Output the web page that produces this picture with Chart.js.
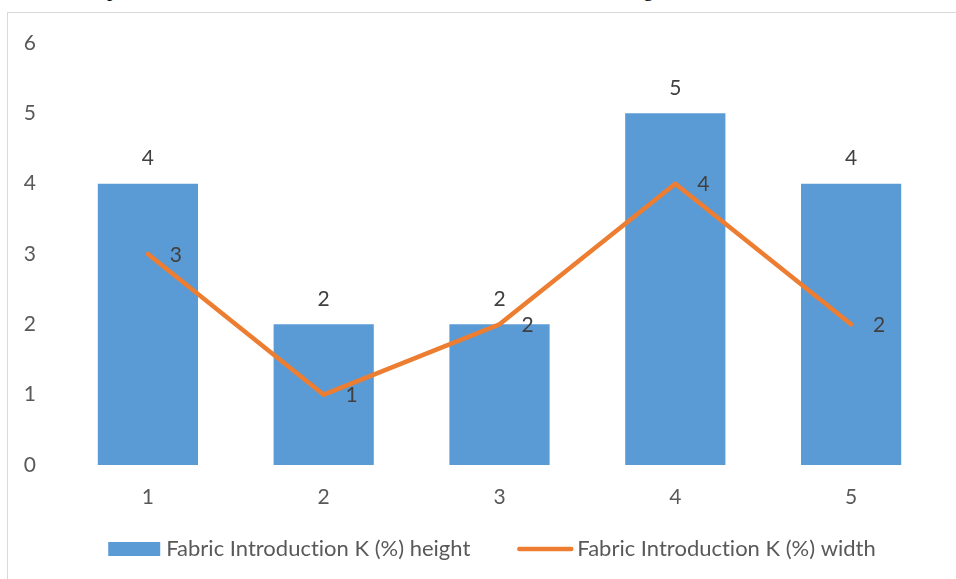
<!DOCTYPE html>
<html>
<head>
<meta charset="utf-8">
<script src="https://cdn.jsdelivr.net/npm/chart.js@4/dist/chart.umd.min.js"></script>
<style>
  html, body { margin: 0; padding: 0; background: #ffffff; overflow: hidden; }
  body { width: 956px; height: 579px; position: relative; }
  .frag { position: absolute; top: -21px; font: 21px "Liberation Serif", serif; line-height: 21px; color: #000; }
  #frame {
    position: absolute; left: 7px; top: 12px;
    width: 970px; height: 580px;
    border: 1px solid #d9d9d9; box-sizing: border-box; background: #fff;
  }
  #frame canvas { display: block; font-variant-ligatures: none; }
</style>
</head>
<body>
<span class="frag" style="left:107px">p</span>
<span class="frag" style="left:643px">g</span>
<div id="frame"><canvas id="c" width="968" height="566"></canvas></div>
<script>
// Categories and the two measured series
const categories = ['1', '2', '3', '4', '5'];
const heightValues = [4, 2, 2, 5, 4];
const widthValues = [3, 1, 2, 4, 2];
const seriesNames = ['Fabric Introduction K (%) height', 'Fabric Introduction K (%) width'];
const yTicks = [0, 1, 2, 3, 4, 5, 6];

const BLUE = '#5B9BD5';
const ORANGE = '#ED7D31';
const AXIS_TEXT = '#595959';
const LABEL_TEXT = '#404040';
const FONT_FAMILY = 'Lato, "Open Sans", sans-serif';
const FONT_SIZE = 21;
const LEGEND_FONT_SIZE = 22;

// Value labels: above each bar, to the right of each line point
const valueLabels = {
  id: 'valueLabels',
  afterDatasetsDraw(chart) {
    const ctx = chart.ctx;
    ctx.save();
    ctx.font = FONT_SIZE + 'px ' + FONT_FAMILY;
    ctx.fillStyle = LABEL_TEXT;
    ctx.textAlign = 'center';
    ctx.textBaseline = 'middle';
    chart.data.datasets.forEach((ds, i) => {
      const meta = chart.getDatasetMeta(i);
      meta.data.forEach((el, j) => {
        const v = ds.data[j];
        if (meta.type === 'bar') {
          ctx.fillText(String(v), el.x, el.y - 25);
        } else {
          ctx.fillText(String(v), el.x + 28, el.y + 1);
        }
      });
    });
    ctx.restore();
  }
};

// Legend row drawn below the axis, centred in the frame
const bottomLegend = {
  id: 'bottomLegend',
  afterDraw(chart) {
    const ctx = chart.ctx;
    ctx.save();
    ctx.font = LEGEND_FONT_SIZE + 'px ' + FONT_FAMILY;
    if ('textRendering' in ctx) ctx.textRendering = 'optimizeSpeed';
    const w1 = ctx.measureText(seriesNames[0]).width;
    const w2 = ctx.measureText(seriesNames[1]).width;
    const boxW = 52, boxH = 14, gap1 = 6, spacing = 47, lineW = 56, gap2 = 4;
    const total = boxW + gap1 + w1 + spacing + lineW + gap2 + w2;
    let x = (chart.width - total) / 2;
    const y = 536;
    ctx.fillStyle = BLUE;
    ctx.fillRect(x, y - boxH / 2, boxW, boxH);
    x += boxW + gap1;
    ctx.fillStyle = AXIS_TEXT;
    ctx.textAlign = 'left';
    ctx.textBaseline = 'middle';
    ctx.fillText(seriesNames[0], x, y);
    x += w1 + spacing;
    ctx.strokeStyle = ORANGE;
    ctx.lineWidth = 4.5;
    ctx.lineCap = 'round';
    ctx.beginPath();
    ctx.moveTo(x + 2, y);
    ctx.lineTo(x + lineW - 2, y);
    ctx.stroke();
    x += lineW + gap2;
    ctx.fillText(seriesNames[1], x, y);
    ctx.restore();
  }
};

new Chart(document.getElementById('c'), {
  data: {
    labels: categories,
    datasets: [
      {
        type: 'line',
        label: seriesNames[1],
        data: widthValues,
        borderColor: ORANGE,
        backgroundColor: ORANGE,
        borderWidth: 4.5,
        borderCapStyle: 'round',
        borderJoinStyle: 'round',
        pointRadius: 0,
        tension: 0,
        order: 0
      },
      {
        type: 'bar',
        label: seriesNames[0],
        data: heightValues,
        backgroundColor: BLUE,
        borderWidth: 0,
        barPercentage: 0.57,
        categoryPercentage: 1,
        order: 1
      }
    ]
  },
  options: {
    responsive: false,
    animation: false,
    events: [],
    layout: { padding: { top: 30, right: 37, left: 0, bottom: 74 } },
    plugins: {
      legend: { display: false },
      tooltip: { enabled: false },
      title: { display: false }
    },
    scales: {
      x: {
        offset: true,
        grid: { display: false, drawTicks: false },
        border: { display: false },
        ticks: {
          color: AXIS_TEXT,
          font: { family: FONT_FAMILY, size: FONT_SIZE },
          padding: 20,
          maxRotation: 0
        },
        afterFit(scale) {
          scale.height = 40;
          scale.paddingLeft = 0;
          scale.paddingRight = 0;
        }
      },
      y: {
        min: yTicks[0],
        max: yTicks[yTicks.length - 1],
        afterBuildTicks(scale) { scale.ticks = yTicks.map(v => ({ value: v })); },
        grid: { display: false, drawTicks: false },
        border: { display: false },
        ticks: {
          color: AXIS_TEXT,
          font: { family: FONT_FAMILY, size: FONT_SIZE },
          padding: 24
        },
        afterFit(scale) {
          scale.width = 52;
          scale.paddingTop = 0;
          scale.paddingBottom = 0;
        }
      }
    }
  },
  plugins: [valueLabels, bottomLegend]
});
</script>
</body>
</html>
